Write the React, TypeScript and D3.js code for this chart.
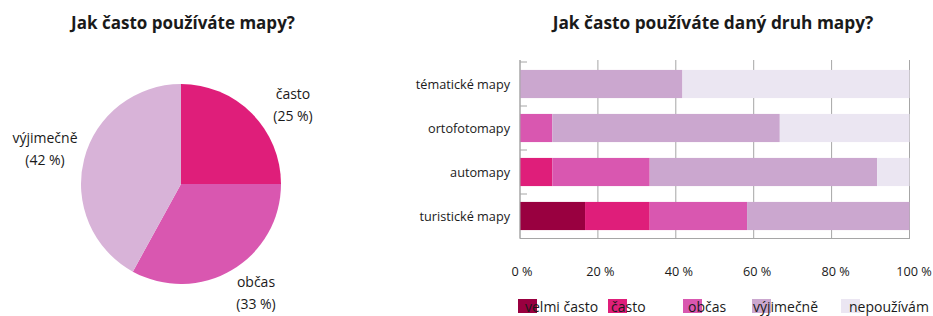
import React from "react";
import * as d3 from "d3";

// ---- data ----
const pieLabels = ["často", "občas", "výjimečně"];
const pieValues = [25, 33, 42];

const categories = ["tématické mapy", "ortofotomapy", "automapy", "turistické mapy"];
const seriesNames = ["velmi často", "často", "občas", "výjimečně", "nepoužívám"];
const velmiCasto = [0, 0, 0, 16.7];
const casto = [0, 0, 8.3, 16.6];
const obcas = [0, 8.3, 25, 25];
const vyjimecne = [41.7, 58.4, 58.4, 41.7];
const nepouzivam = [58.3, 33.3, 8.3, 0];
const xTicks = [0, 20, 40, 60, 80, 100];

// ---- styles ----
const barColors = ["#990040", "#DF1E7A", "#D957B0", "#CBA7CF", "#EBE6F2"];
const pieColors = ["#DF1E7A", "#D957B0", "#D8B3D8"];
const FONT = "'Open Sans', Lato, sans-serif";
const TEXT = "#1a1a1a";

export default function App() {
  const W = 933, H = 316;

  // pie
  const cx = 181, cy = 184, r = 100;
  const pieGen = d3.pie<number>().sort(null).startAngle(0).endAngle(2 * Math.PI);
  const arcs = pieGen(pieValues);
  const arcGen = d3.arc<d3.PieArcDatum<number>>().innerRadius(0).outerRadius(r);
  const pieLabelPos = [
    { x: 293, y: 99 },
    { x: 256, y: 287 },
    { x: 45, y: 143 },
  ];

  // bars
  const x = d3.scaleLinear().domain([0, 100]).range([520, 909.5]);
  const xLab = d3.scaleLinear().domain([0, 100]).range([522, 914]);
  const y = d3.scaleBand().domain(categories).range([62, 238]).paddingInner(0.36).paddingOuter(0.18);
  const series = [velmiCasto, casto, obcas, vyjimecne, nepouzivam];
  const rows = categories.map((c, i) => {
    const obj: any = { cat: c };
    seriesNames.forEach((s, k) => (obj[s] = series[k][i]));
    return obj;
  });
  const stack = d3.stack<any>().keys(seriesNames)(rows);
  const step = y.step();
  const bandEdges = categories.map((c) => (y(c) as number) - (step * 0.36) / 2);

  const legend = [
    { sx: 518, tx: 525 },
    { sx: 608, tx: 611 },
    { sx: 683, tx: 688 },
    { sx: 752, tx: 753 },
    { sx: 841, tx: 849 },
  ];

  return (
    <svg width={W} height={H} style={{ position: "absolute", left: 0, top: 0 }} fontFamily={FONT}>
      <rect width={W} height={H} fill="#fff" />
      {/* pie */}
      <text x={183} y={29} textAnchor="middle" fontSize={17} fontWeight="bold" fill={TEXT}>
        Jak často používáte mapy?
      </text>
      <g transform={`translate(${cx},${cy})`}>
        {arcs.map((a, i) => (
          <path key={i} d={arcGen(a) as string} fill={pieColors[i]} />
        ))}
      </g>
      {pieLabels.map((l, i) => (
        <text key={l} x={pieLabelPos[i].x} y={pieLabelPos[i].y} textAnchor="middle" fontSize={14} fill={TEXT}>
          <tspan x={pieLabelPos[i].x}>{l}</tspan>
          <tspan x={pieLabelPos[i].x} dy={22}>({pieValues[i]} %)</tspan>
        </text>
      ))}

      {/* bar chart */}
      <text x={713} y={29} textAnchor="middle" fontSize={17.3} fontWeight="bold" fill={TEXT}>
        Jak často používáte daný druh mapy?
      </text>
      {xTicks.map((t) => (
        <line key={t} x1={x(t)} x2={x(t)} y1={60} y2={238} stroke="#a6a6a6" strokeWidth={1} />
      ))}
      {stack.map((s, k) => (
        <g key={s.key} fill={barColors[k]}>
          {s.map((d, i) => (
            <rect
              key={i}
              x={x(d[0])}
              y={y(categories[i])}
              width={Math.max(0, x(d[1]) - x(d[0]))}
              height={y.bandwidth()}
            />
          ))}
        </g>
      ))}
      <line x1={520} x2={520} y1={60} y2={239} stroke="#a6a6a6" />
      <line x1={520} x2={910} y1={238.5} y2={238.5} stroke="#a6a6a6" />
      {bandEdges.map((e, i) => (
        <line key={i} x1={520} x2={527} y1={e} y2={e} stroke="#a6a6a6" />
      ))}
      {categories.map((c) => (
        <text key={c} x={510} y={(y(c) as number) + y.bandwidth() / 2 + 5} textAnchor="end" fontSize={12.7} fill={TEXT}>
          {c}
        </text>
      ))}
      {xTicks.map((t) => (
        <text key={t} x={xLab(t)} y={276} textAnchor="middle" fontSize={12.7} fill={TEXT}>
          {t} %
        </text>
      ))}
      {seriesNames.map((s, k) => (
        <g key={s}>
          <rect x={legend[k].sx} y={299} width={19} height={14} fill={barColors[k]} />
          <text x={legend[k].tx} y={312} fontSize={14} fill={TEXT}>
            {s}
          </text>
        </g>
      ))}
    </svg>
  );
}
